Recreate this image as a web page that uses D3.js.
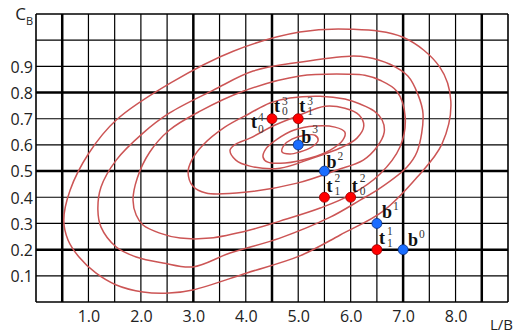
<!DOCTYPE html>
<html><head><meta charset="utf-8">
<script src="https://cdn.jsdelivr.net/npm/d3@7"></script>
<style>html,body{margin:0;padding:0;background:#fff;}svg{display:block;}</style>
</head><body>
<svg id="chart" width="515" height="333"></svg>
<script>
// ---------- data ----------
const xTickValues = [1, 2, 3, 4, 5, 6, 7, 8];
const xTickLabels = ["1.0", "2.0", "3.0", "4.0", "5.0", "6.0", "7.0", "8.0"];
const yTickValues = [0.1, 0.2, 0.3, 0.4, 0.5, 0.6, 0.7, 0.8, 0.9];
const yTickLabels = ["0.1", "0.2", "0.3", "0.4", "0.5", "0.6", "0.7", "0.8", "0.9"];
const xGridStep = 0.5, yGridStep = 0.1;
const xThick = [0.5, 3.0, 4.5, 7.0, 8.5];
const yThick = [0.2, 0.5, 0.8];

// contour lines (L/B, C_B), outermost first
const contourF = [[0.53,0.313],[0.61,0.237],[0.82,0.172],[1.14,0.111],[1.53,0.065],[2.04,0.038],[2.54,0.034],[2.99,0.046],[4.02,0.111],[5.03,0.176],[5.80,0.256],[6.62,0.347],[7.27,0.477],[7.74,0.603],[7.91,0.767],[7.70,0.897],[7.00,1.011],[5.99,1.042],[5.03,1.031],[3.76,0.958],[2.56,0.836],[1.53,0.695],[1.01,0.569],[0.65,0.427]];
const contourE = [[1.18,0.351],[1.24,0.286],[1.53,0.210],[1.91,0.172],[2.42,0.149],[2.99,0.134],[3.70,0.187],[4.65,0.244],[5.61,0.324],[6.18,0.389],[6.56,0.435],[7.07,0.515],[7.27,0.576],[7.38,0.718],[7.28,0.794],[7.09,0.863],[6.75,0.908],[6.31,0.935],[5.99,0.939],[5.03,0.916],[4.14,0.882],[3.38,0.809],[2.54,0.721],[2.04,0.645],[1.53,0.542],[1.24,0.439]];
const contourD = [[1.85,0.389],[1.91,0.332],[2.04,0.294],[2.36,0.263],[2.75,0.244],[3.32,0.244],[4.08,0.275],[4.65,0.309],[5.42,0.359],[5.99,0.408],[6.56,0.489],[6.94,0.592],[7.04,0.706],[6.88,0.805],[6.56,0.847],[6.27,0.866],[5.99,0.870],[5.03,0.863],[3.95,0.805],[3.13,0.729],[2.54,0.656],[2.17,0.573],[1.93,0.473]];
const contourC = [[2.90,0.496],[2.99,0.443],[3.24,0.416],[4.02,0.420],[4.98,0.454],[5.74,0.504],[6.24,0.542],[6.50,0.592],[6.64,0.649],[6.60,0.695],[6.45,0.729],[6.18,0.756],[5.89,0.775],[5.42,0.786],[4.84,0.779],[4.46,0.760],[4.08,0.721],[3.60,0.668],[3.18,0.599],[2.97,0.542]];
const contourB = [[3.70,0.580],[3.81,0.542],[4.08,0.519],[4.65,0.511],[5.28,0.550],[5.80,0.588],[6.12,0.626],[6.25,0.672],[6.16,0.714],[5.89,0.740],[5.51,0.748],[5.03,0.714],[4.56,0.676],[4.08,0.626],[3.81,0.603]];
const contourA = [[4.33,0.553],[4.42,0.534],[4.75,0.531],[5.23,0.550],[5.61,0.580],[5.85,0.618],[5.89,0.649],[5.70,0.668],[5.32,0.672],[4.91,0.656],[4.60,0.622],[4.38,0.584]];
const contourT = [[4.69,0.573],[4.73,0.599],[4.88,0.622],[5.13,0.637],[5.32,0.637],[5.38,0.618],[5.26,0.592],[5.03,0.573],[4.84,0.565]];
const contours = [contourF, contourE, contourD, contourC, contourB, contourA, contourT];

// points
const bPoints = [
  {id: "b0", x: 7.0, y: 0.2, base: "b", sup: "0", sub: ""},
  {id: "b1", x: 6.5, y: 0.3, base: "b", sup: "1", sub: ""},
  {id: "b2", x: 5.5, y: 0.5, base: "b", sup: "2", sub: ""},
  {id: "b3", x: 5.0, y: 0.6, base: "b", sup: "3", sub: ""}
];
const tPoints = [
  {id: "t11", x: 6.5, y: 0.2, base: "t", sup: "1", sub: "1"},
  {id: "t12", x: 5.5, y: 0.4, base: "t", sup: "2", sub: "1"},
  {id: "t02", x: 6.0, y: 0.4, base: "t", sup: "2", sub: "0"},
  {id: "t13", x: 5.0, y: 0.7, base: "t", sup: "3", sub: "1"},
  {id: "t03", x: 4.5, y: 0.7, base: "t", sup: "3", sub: "0"}
];
const extraLabels = [
  {id: "t04", x: 4.5, y: 0.7, base: "t", sup: "4", sub: "0"}
];

// label placement (pixels relative to point): base dx, base dy, script dx, sup dy, sub dy
const labelOffsets = {
  b0: [5, -4, 16, -12, 0],
  b1: [5, -5, 16, -13, 0],
  b2: [2, -3, 13, -11, 0],
  b3: [3, -2, 14, -12, 0],
  t11: [2, -6, 10, -15, -3],
  t12: [2, -5, 10, -15, -2],
  t02: [1, -5, 9, -15, -2],
  t13: [1, -7, 9, -14, -4],
  t03: [2, -7, 10, -14, -4],
  t04: [-21, 9, -14, 2, 14]
};

// ---------- drawing ----------
const W = 515, H = 333;
const margin = {left: 36, right: 7, top: 14, bottom: 31};
const svg = d3.select("#chart");
const x = d3.scaleLinear().domain([0, 9]).range([margin.left, W - margin.right]);
const y = d3.scaleLinear().domain([0, 1.1]).range([H - margin.bottom, margin.top]);

const g = svg.append("g");
const xs = d3.range(0, 9 + 1e-6, xGridStep);
const ys = d3.range(0, 1.1 + 1e-6, yGridStep);
const isThick = (arr, v) => arr.some(t => Math.abs(t - v) < 1e-6);

g.selectAll("line.gx").data(xs).join("line")
  .attr("x1", d => x(d)).attr("x2", d => x(d))
  .attr("y1", y(0)).attr("y2", y(1.1))
  .attr("stroke", "#000")
  .attr("stroke-width", d => isThick(xThick, d) ? 2.5 : (d === 0 || Math.abs(d - 9) < 1e-6 ? 1.6 : 1.2));
g.selectAll("line.gy").data(ys).join("line")
  .attr("y1", d => y(d)).attr("y2", d => y(d))
  .attr("x1", x(0)).attr("x2", x(9))
  .attr("stroke", "#000")
  .attr("stroke-width", d => isThick(yThick, d) ? 2.5 : (d < 1e-6 || Math.abs(d - 1.1) < 1e-6 ? 1.6 : 1.2));

// axes labels via d3 axes (lines hidden)
const xAxis = d3.axisBottom(x).tickValues(xTickValues).tickFormat((d, i) => xTickLabels[i]).tickSize(0).tickPadding(0);
const gx = svg.append("g").attr("transform", `translate(0,${y(0)})`).call(xAxis);
gx.select(".domain").remove();
gx.selectAll("text").attr("y", 20).attr("dy", 0)
  .style("font-family", "'Open Sans', sans-serif").style("font-size", "16px").attr("fill", "#222");

const yAxis = d3.axisLeft(y).tickValues(yTickValues).tickFormat((d, i) => yTickLabels[i]).tickSize(0).tickPadding(0);
const gy = svg.append("g").attr("transform", `translate(${x(0) - 3},0)`).call(yAxis);
gy.select(".domain").remove();
gy.selectAll("text").attr("x", 0).attr("dy", "0.36em")
  .style("font-family", "'Open Sans', sans-serif").style("font-size", "16px").attr("fill", "#222");

// axis titles
const cb = svg.append("text").attr("x", 33).attr("y", 20).attr("text-anchor", "end")
  .style("font-family", "'Open Sans', sans-serif").attr("fill", "#222");
cb.append("tspan").text("C").style("font-size", "17px");
cb.append("tspan").text("B").style("font-size", "11px").attr("dy", 5);
svg.append("text").attr("x", 513).attr("y", 330).attr("text-anchor", "end")
  .style("font-family", "'Open Sans', sans-serif").style("font-size", "15px").attr("fill", "#222")
  .text("L/B");

// contours
const line = d3.line().x(d => x(d[0])).y(d => y(d[1])).curve(d3.curveCatmullRomClosed.alpha(0.5));
svg.append("g").selectAll("path").data(contours).join("path")
  .attr("d", line).attr("fill", "none").attr("stroke", "#cc5555").attr("stroke-width", 1.5);

// points
svg.append("g").selectAll("circle.t").data(tPoints).join("circle")
  .attr("cx", d => x(d.x)).attr("cy", d => y(d.y)).attr("r", 5)
  .attr("fill", "#ff0000").attr("stroke", "#9a0000").attr("stroke-width", 0.8);
svg.append("g").selectAll("circle.b").data(bPoints).join("circle")
  .attr("cx", d => x(d.x)).attr("cy", d => y(d.y)).attr("r", 5)
  .attr("fill", "#1a6dff").attr("stroke", "#0a2f80").attr("stroke-width", 0.8);

// labels
const allLabels = bPoints.concat(tPoints, extraLabels);
const lg = svg.append("g");
allLabels.forEach(d => {
  const o = labelOffsets[d.id];
  const px = x(d.x), py = y(d.y);
  lg.append("text").attr("x", px + o[0]).attr("y", py + o[1])
    .style("font-family", "'Liberation Serif', serif").style("font-weight", "bold").style("font-size", "18px")
    .attr("fill", "#111").text(d.base);
  if (d.sup) lg.append("text").attr("x", px + o[2]).attr("y", py + o[3])
    .style("font-family", "'Liberation Serif', serif").style("font-size", "11.5px").attr("fill", "#333").text(d.sup);
  if (d.sub) lg.append("text").attr("x", px + o[2]).attr("y", py + o[4])
    .style("font-family", "'Liberation Serif', serif").style("font-size", "11.5px").attr("fill", "#333").text(d.sub);
});
</script>
</body></html>
